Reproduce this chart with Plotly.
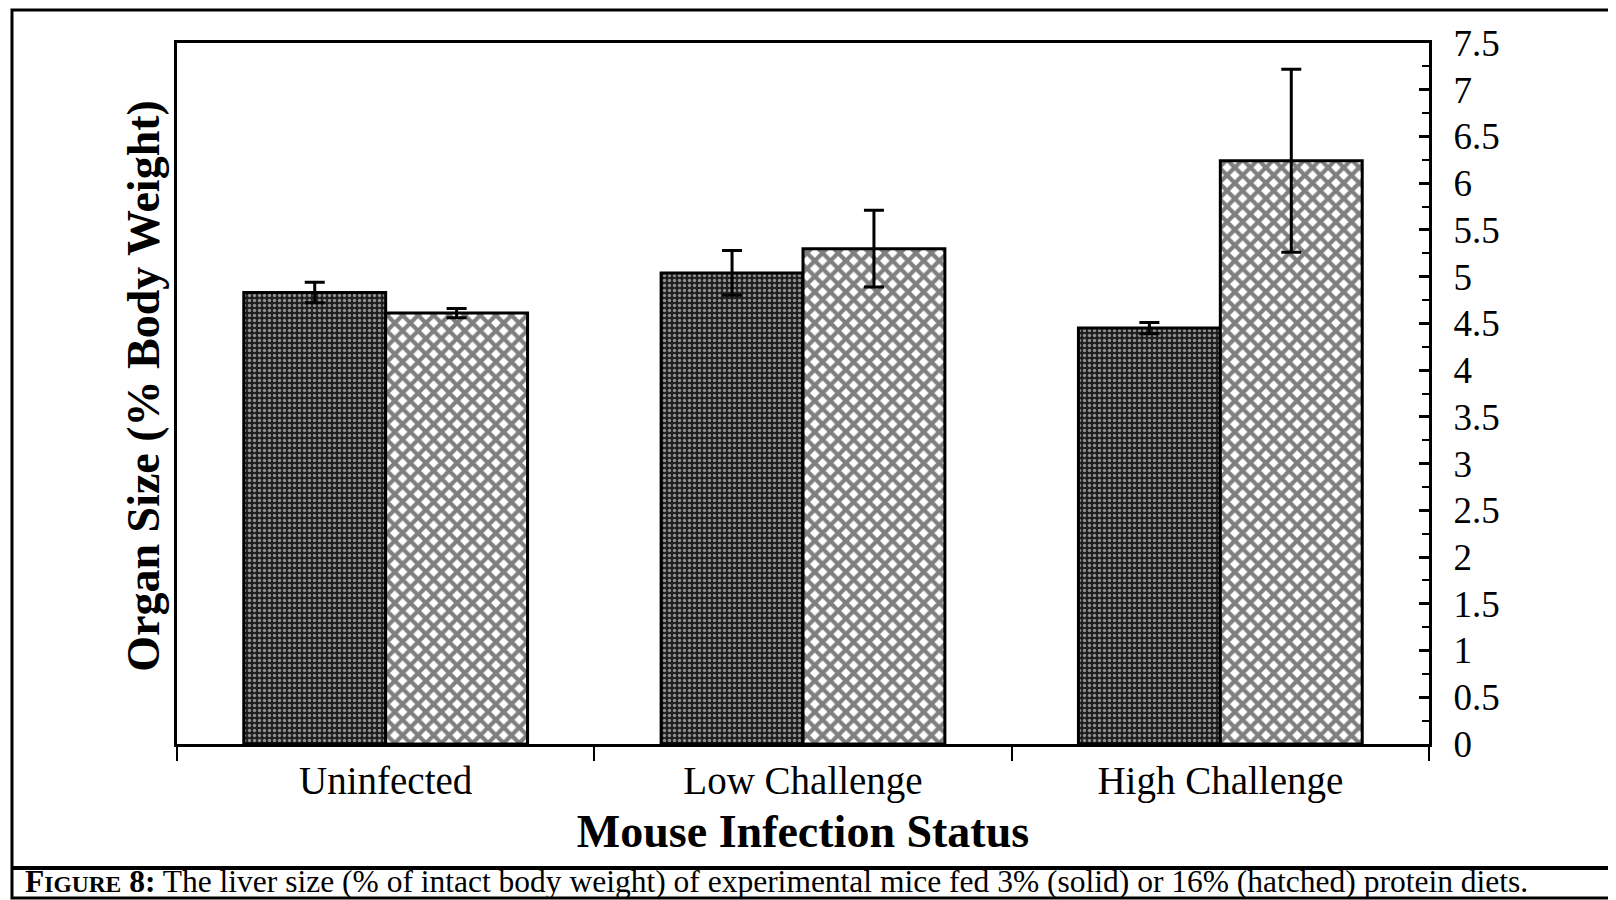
import plotly.graph_objects as go

categories = ["Uninfected", "Low Challenge", "High Challenge"]

# liver size, % of intact body weight
solid_3pct = [4.83, 5.04, 4.45]
solid_3pct_err = [0.11, 0.24, 0.06]
hatched_16pct = [4.61, 5.30, 6.24]
hatched_16pct_err = [0.05, 0.41, 0.98]

y_ticks = [0, 0.5, 1, 1.5, 2, 2.5, 3, 3.5, 4, 4.5, 5, 5.5, 6, 6.5, 7, 7.5]

serif = "Liberation Serif, Times New Roman, serif"

fig = go.Figure()

fig.add_trace(go.Bar(
    x=categories, y=solid_3pct, name="3% protein (solid)",
    marker=dict(
        color="#2a2a2a",
        line=dict(color="black", width=3),
        pattern=dict(shape=".", size=5, solidity=0.35, fgcolor="white", bgcolor="#1e1e1e"),
    ),
    error_y=dict(type="data", array=solid_3pct_err, color="black", thickness=3, width=10),
))

fig.add_trace(go.Bar(
    x=categories, y=hatched_16pct, name="16% protein (hatched)",
    marker=dict(
        color="white",
        line=dict(color="black", width=3),
        pattern=dict(shape="x", size=11, solidity=0.62, fgcolor="black", bgcolor="white"),
    ),
    error_y=dict(type="data", array=hatched_16pct_err, color="black", thickness=3, width=10),
))

fig.update_layout(
    width=1616, height=900,
    margin=dict(l=169, r=195, t=35, b=164),
    paper_bgcolor="white", plot_bgcolor="white",
    barmode="group", bargap=0.32, bargroupgap=0,
    showlegend=False,
    font=dict(family=serif, color="black"),
)

fig.update_xaxes(
    type="category", automargin=False,
    showline=True, linecolor="black", linewidth=3, mirror=True,
    ticks="outside", tickson="boundaries", ticklen=14, tickwidth=2, tickcolor="black",
    tickfont=dict(size=39, family=serif),
    showgrid=False,
    title=dict(text="<b>Mouse Infection Status</b>", font=dict(size=46, family=serif), standoff=14),
)

fig.update_yaxes(
    side="right", range=[0, 7.5], automargin=False,
    tickmode="array", tickvals=y_ticks, ticktext=[f"{v:g}" for v in y_ticks],
    showline=True, linecolor="black", linewidth=3, mirror=True,
    ticks="inside", ticklen=10, tickwidth=3, tickcolor="black",
    minor=dict(dtick=0.25, ticks="inside", ticklen=7, tickwidth=2, tickcolor="black"),
    tickfont=dict(size=37, family=serif),
    ticklabelstandoff=14,
    showgrid=False, zeroline=False,
)

# y-axis title sits on the left although the axis is on the right
fig.add_annotation(
    text="<b>Organ Size (% Body Weight)</b>",
    xref="paper", yref="paper", x=-0.0264, y=0.511, xanchor="center", yanchor="middle",
    textangle=-90, showarrow=False, font=dict(size=46, family=serif),
)

# outer figure frame and caption box
fig.add_shape(type="rect", xref="paper", yref="paper", x0=-0.1318, x1=1.1446, y0=-0.2197, y1=1.047,
              line=dict(color="black", width=3))
fig.add_shape(type="line", xref="paper", yref="paper", x0=-0.1318, x1=1.1446, y0=-0.177, y1=-0.177,
              line=dict(color="black", width=4))

fig.add_annotation(
    text="<b>F<span style='font-size:23.5px'>IGURE</span> 8:</b> The liver size (% of intact body weight) "
         "of experimental mice fed 3% (solid) or 16% (hatched) protein diets.",
    xref="paper", yref="paper", x=-0.123, y=-0.196, xanchor="left", yanchor="middle",
    showarrow=False, font=dict(size=31.5, family=serif),
)

fig.write_html("out.html")
